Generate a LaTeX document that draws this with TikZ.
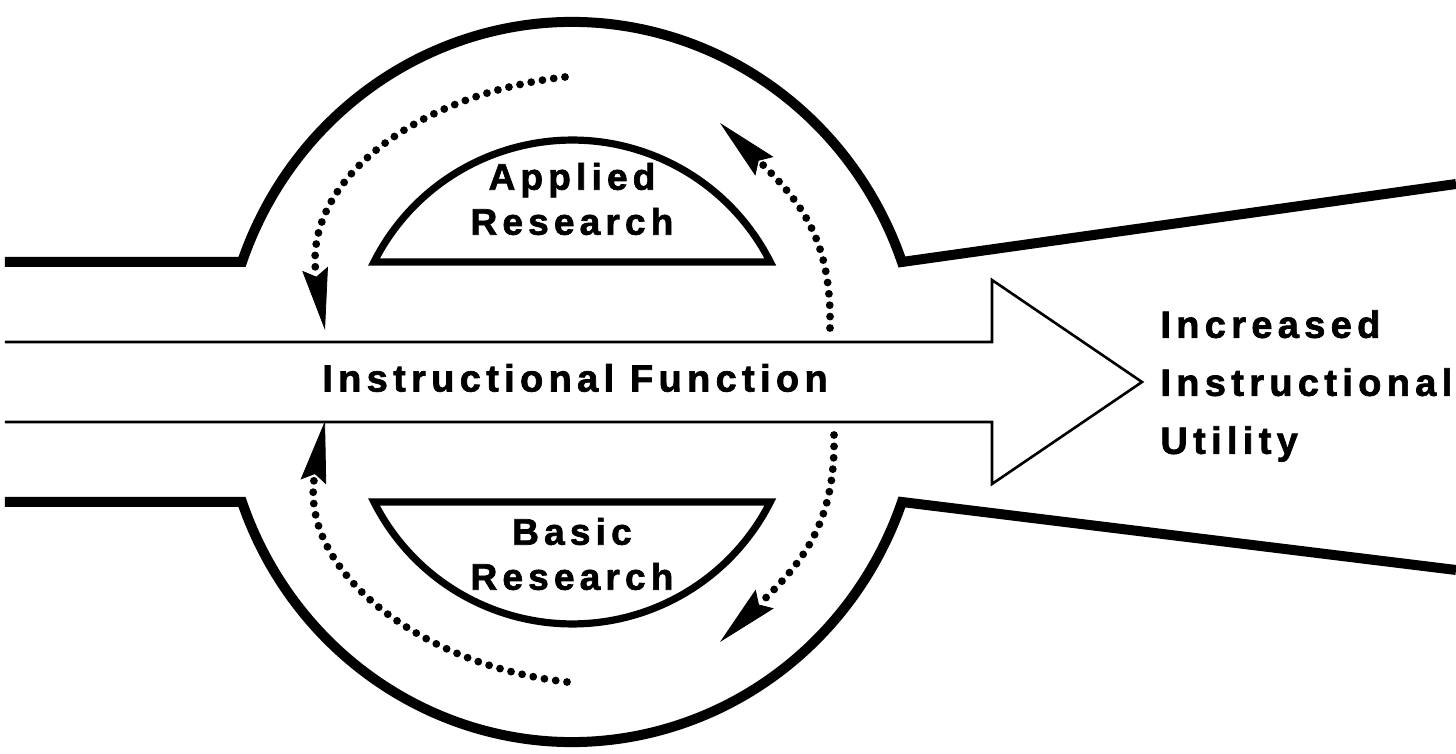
\documentclass[tikz,border=0pt]{standalone}
\usepackage{fontspec}
\setmainfont{Liberation Sans}[LetterSpace=14, BoldFeatures={FakeBold=1.8}]
\usetikzlibrary{arrows.meta}

\begin{document}
\begin{tikzpicture}[x=0.5pt, y=0.5pt, font=\bfseries,
    wall/.style={draw, line width=5pt, line join=miter},
    lobe/.style={draw, line width=3.6pt, line join=miter},
    channel/.style={draw, line width=1.3pt, line join=miter},
    flowarc/.style={line width=3.9pt, line cap=round, dash pattern=on 0pt off 5.7pt,
        -{Stealth[length=31pt, width=13pt, inset=4pt, line width=0.4pt]}},
    caption/.style={inner sep=0pt, align=center, font=\fontsize{18.5}{22.5}\selectfont\bfseries}
]
\useasboundingbox (-572,-372) rectangle (884,382);

% Outer walls (top and bottom halves)
\draw[wall] (-567,120) -- (-330,120)
    arc[start angle=160.53, end angle=19.47, x radius=350, y radius=360] -- (884,198);
\draw[wall] (-567,-120) -- (-330,-120)
    arc[start angle=199.47, end angle=340.53, x radius=350, y radius=360] -- (884,-188);

% Main channel ending in a big open arrow
\draw[channel] (-567,40) -- (420,40) -- (420,102) -- (570,0) -- (420,-102) -- (420,-40) -- (-567,-40);

% Research lobes
\draw[lobe] (-198,120) arc[start angle=153.2, end angle=26.8, radius=222] -- cycle;
\draw[lobe] (-198,-120) arc[start angle=206.8, end angle=333.2, radius=222] -- cycle;

% Labels
\node[caption] (applied) at (0,183) {Applied\\Research};
\node[caption] (basic) at (0,-172) {Basic\\Research};
\node[caption, font=\fontsize{19}{22.5}\selectfont\bfseries] (function) at (3,4) {Instructional Function};
\node[caption, align=left, anchor=west, font=\fontsize{19}{29}\selectfont\bfseries]
    (utility) at (1160-572,-4) {Increased\\Instructional\\Utility};

% Dotted cycle arrows
\coordinate (ulStart) at (-7,305);
\coordinate (ulEnd) at (-247,52);
\coordinate (urStart) at (258,54);
\coordinate (urEnd) at (148,259);
\coordinate (lrStart) at (262,-53);
\coordinate (lrEnd) at (148,-260);
\coordinate (llStart) at (-5,-300);
\coordinate (llEnd) at (-247,-39);

\draw[flowarc] (ulStart) .. controls (-156,288) and (-271,200) .. (ulEnd);
\draw[flowarc] (urStart) .. controls (260,144) and (227,182) .. (urEnd);
\draw[flowarc] (lrStart) .. controls (264,-143) and (228,-183) .. (lrEnd);
\draw[flowarc] (llStart) .. controls (-154,-283) and (-275,-186) .. (llEnd);

\end{tikzpicture}
\end{document}
